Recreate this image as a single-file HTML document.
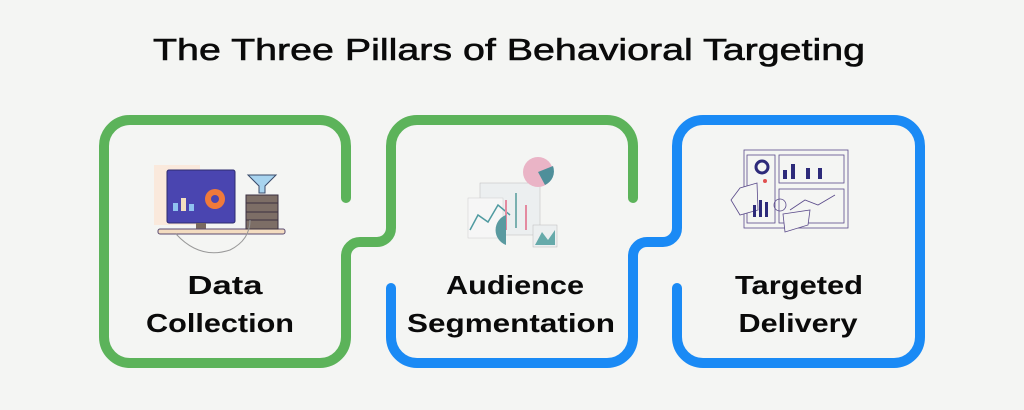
<!DOCTYPE html>
<html><head><meta charset="utf-8"><style>
html,body{margin:0;padding:0;background:#f4f5f3;}
svg{display:block}
text{font-family:"Liberation Sans",sans-serif;fill:#0a0a0a}
</style></head><body>
<svg width="1024" height="410" viewBox="0 0 1024 410" xmlns="http://www.w3.org/2000/svg">
<rect width="1024" height="410" fill="#f4f5f3"/>
<text x="509" y="60" font-size="31" text-anchor="middle" textLength="712" lengthAdjust="spacingAndGlyphs" stroke="#0a0a0a" stroke-width="0.6">The Three Pillars of Behavioral Targeting</text>

<path d="M633 198 V146 A26 26 0 0 0 607 120 H417 A26 26 0 0 0 391 146 V228 A14 14 0 0 1 377 242 H360 A14 14 0 0 0 346 256 V337 A26 26 0 0 1 320 363 H130 A26 26 0 0 1 104 337 V146 A26 26 0 0 1 130 120 H320 A26 26 0 0 1 346 146 V198" fill="none" stroke="#5cb35a" stroke-width="10" stroke-linecap="round" stroke-linejoin="round"/>
<path d="M391 288 V337 A26 26 0 0 0 417 363 H607 A26 26 0 0 0 633 337 V256 A14 14 0 0 1 647 242 H663 A14 14 0 0 0 677 228 V146 A26 26 0 0 1 703 120 H894 A26 26 0 0 1 920 146 V337 A26 26 0 0 1 894 363 H703 A26 26 0 0 1 677 337 V288" fill="none" stroke="#1a8af5" stroke-width="10" stroke-linecap="round" stroke-linejoin="round"/>

<g>
<rect x="154" y="165" width="46" height="60" fill="#fbe6d6" opacity="0.8"/>
<rect x="167" y="170" width="68" height="53" rx="2" fill="#4a45b0" stroke="#2d2a6e" stroke-width="1"/>
<circle cx="215" cy="199" r="10" fill="#f07a3a"/><circle cx="215" cy="199" r="4" fill="#4a45b0"/>
<rect x="173" y="203" width="5" height="8" fill="#8fc2f0"/><rect x="181" y="198" width="5" height="13" fill="#f4e0c0"/><rect x="189" y="204" width="5" height="7" fill="#8fc2f0"/>
<rect x="196" y="223" width="10" height="7" fill="#7a6a60"/><rect x="190" y="229" width="22" height="3" fill="#5a4a50"/>
<rect x="158" y="229" width="127" height="5" rx="2" fill="#f3dcc0" stroke="#5a4a70" stroke-width="1"/>
<path d="M248 175 H276 L265 186 V193 H259 V186 Z" fill="#a8d4ef" stroke="#3a4a6a" stroke-width="1"/>
<rect x="246" y="195" width="32" height="34" fill="#7d6e66" stroke="#3a3040" stroke-width="1"/>
<path d="M246 203 H278 M246 212 H278 M246 220 H278" stroke="#3a3040"/>
<path d="M176 234 Q200 260 230 250 Q250 240 250 220" fill="none" stroke="#999" stroke-width="1"/>
</g>

<g>
<rect x="480" y="183" width="60" height="52" fill="#eceff0" stroke="#bbb" stroke-width="0.5"/>
<rect x="468" y="198" width="35" height="40" fill="#f6f6f6" stroke="#ccc" stroke-width="0.5"/>
<path d="M470 230 L478 215 L488 222 L498 205 L510 215" fill="none" stroke="#4f9aa0" stroke-width="1.5"/>
<rect x="505" y="200" width="2" height="30" fill="#e48aa0"/><rect x="515" y="193" width="2" height="35" fill="#7ab0b0"/><rect x="525" y="205" width="2" height="25" fill="#e48aa0"/>
<circle cx="538" cy="172" r="15" fill="#eab4c6"/><path d="M538 172 L553 166 A15 15 0 0 1 545 185 Z" fill="#4f8f9a"/>
<path d="M506 245 A16 16 0 0 1 506 215 V245" fill="#5a9aa0"/>
<rect x="533" y="225" width="24" height="22" fill="#eceff0" stroke="#bbb" stroke-width="0.5"/>
<path d="M535 245 L542 232 L548 240 L555 230 V245 Z" fill="#6aa"/>
</g>

<g fill="none" stroke="#5a4a8a" stroke-width="0.8">
<rect x="744" y="150" width="104" height="78"/>
<rect x="747" y="155" width="28" height="68"/>
<rect x="779" y="155" width="65" height="28"/>
<rect x="779" y="189" width="65" height="34"/>
<circle cx="762" cy="167" r="6" stroke="#2d2a7a" stroke-width="3"/>
<path d="M731 200 L740 188 L757 183 L758 210 L740 215 Z" fill="#f4f5f3"/>
<path d="M790 210 L805 200 L818 205 L835 195" />
<circle cx="780" cy="205" r="6"/>
<path d="M783 214 L810 210 L808 225 L785 232 Z" fill="#f4f5f3"/>
</g>
<g fill="#2d2a7a">
<rect x="783" y="170" width="4" height="9"/><rect x="791" y="164" width="4" height="15"/><rect x="806" y="168" width="4" height="11"/><rect x="818" y="168" width="4" height="11"/>
<rect x="753" y="205" width="3" height="12"/><rect x="759" y="200" width="3" height="17"/><rect x="765" y="202" width="3" height="15"/>
</g>
<circle cx="765" cy="181" r="2" fill="#e05050"/>

<g font-size="26" font-weight="bold" text-anchor="middle">
<text x="225" y="294" textLength="75" lengthAdjust="spacingAndGlyphs">Data</text>
<text x="220" y="332" textLength="148" lengthAdjust="spacingAndGlyphs">Collection</text>
<text x="515" y="294" textLength="138" lengthAdjust="spacingAndGlyphs">Audience</text>
<text x="511" y="332" textLength="208" lengthAdjust="spacingAndGlyphs">Segmentation</text>
<text x="799" y="294" textLength="128" lengthAdjust="spacingAndGlyphs">Targeted</text>
<text x="798" y="332" textLength="119" lengthAdjust="spacingAndGlyphs">Delivery</text>
</g>
</svg>
</body></html>
